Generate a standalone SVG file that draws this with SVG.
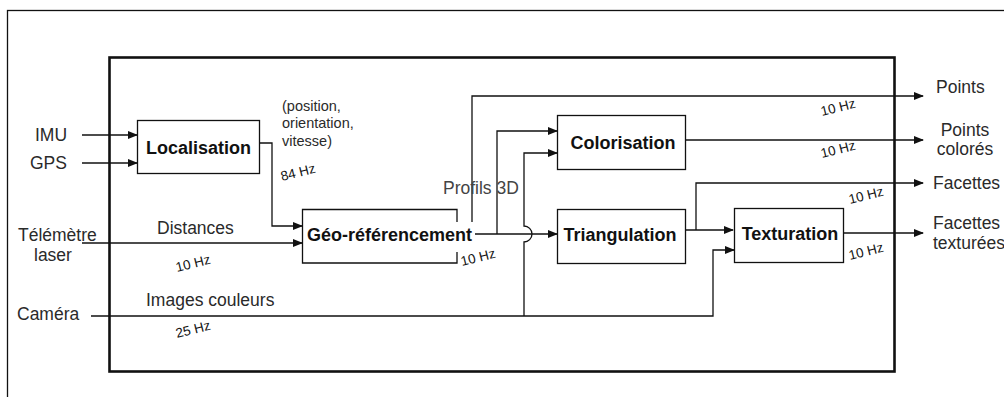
<svg xmlns="http://www.w3.org/2000/svg" width="1004" height="397" viewBox="0 0 1004 397">
<defs>
<marker id="arr" markerWidth="10" markerHeight="8" refX="9" refY="4" orient="auto" markerUnits="userSpaceOnUse">
<path d="M0,0 L10,4 L0,8 Z" fill="#111"/>
</marker>
<style>
.lbl{font-family:"Liberation Sans",Arial,sans-serif;font-size:17.5px;fill:#2a2a2a}
.sm{font-family:"Liberation Sans",Arial,sans-serif;font-size:14.5px;fill:#2a2a2a}
.bx{font-family:"Liberation Sans",Arial,sans-serif;font-size:18px;font-weight:bold;fill:#111}
.hz{font-family:"Liberation Sans",Arial,sans-serif;font-size:13.5px;fill:#111}
.box{fill:#fff;stroke:#111;stroke-width:1.3}
.c{fill:none;stroke:#111;stroke-width:1.3}
.ca{fill:none;stroke:#111;stroke-width:1.3;marker-end:url(#arr)}
</style>
</defs>
<rect width="1004" height="397" fill="#fff"/>
<rect x="7.5" y="10.5" width="1010" height="400" fill="none" stroke="#111" stroke-width="1.3"/>
<rect x="109.5" y="57.5" width="785" height="314" fill="none" stroke="#111" stroke-width="2.6"/>

<g id="connectors">
<path class="ca" d="M82 135 H137"/>
<path class="ca" d="M82 163 H137"/>
<path class="ca" d="M260 143 H272 V226 H302"/>
<path class="ca" d="M82 243 H302"/>
<path class="ca" d="M475 234 H557"/>
<path class="ca" d="M472 222 V96 H923"/>
<path class="ca" d="M497 234 V131 H557"/>
<path class="ca" d="M524 316 V242 A8 8 0 0 0 524 226 V153 H557"/>
<path class="ca" d="M91 316 H713 V250 H734"/>
<path class="ca" d="M686 140 H923"/>
<path class="ca" d="M686 230 H733"/>
<path class="ca" d="M696 230 V183 H923"/>
<path class="ca" d="M844 233 H923"/>
</g>

<g id="localisation">
<rect class="box" x="137.5" y="120.5" width="122" height="53"/>
<text class="bx" x="198.5" y="154" text-anchor="middle">Localisation</text>
</g>
<g id="georef">
<path class="c" d="M457 222 V209.5 H302.5 V263 H457 V252"/>
<text class="bx" x="307" y="241">Géo-référencement</text>
</g>
<g id="colorisation">
<rect class="box" x="557.5" y="115.5" width="128" height="54"/>
<text class="bx" x="623" y="149" text-anchor="middle">Colorisation</text>
</g>
<g id="triangulation">
<rect class="box" x="557.5" y="209.5" width="128" height="54"/>
<text class="bx" x="620" y="241" text-anchor="middle">Triangulation</text>
</g>
<g id="texturation">
<rect class="box" x="734.5" y="208.5" width="109" height="54"/>
<text class="bx" x="790" y="240" text-anchor="middle">Texturation</text>
</g>

<g id="labels">
<text class="lbl" x="35" y="141">IMU</text>
<text class="lbl" x="30" y="169">GPS</text>
<text class="lbl" x="18" y="241">Télémètre</text>
<text class="lbl" x="34" y="261">laser</text>
<text class="lbl" x="17" y="320">Caméra</text>
<text class="lbl" x="157" y="234">Distances</text>
<text class="lbl" x="146" y="306">Images couleurs</text>
<text class="sm" x="282" y="111">(position,</text>
<text class="sm" x="282" y="128">orientation,</text>
<text class="sm" x="282" y="146">vitesse)</text>
<text class="lbl" x="443" y="194" style="fill:#444">Profils 3D</text>
<text class="lbl" x="936" y="93">Points</text>
<text class="lbl" x="965" y="136" text-anchor="middle">Points</text>
<text class="lbl" x="965" y="155" text-anchor="middle">colorés</text>
<text class="lbl" x="933" y="189">Facettes</text>
<text class="lbl" x="933" y="229">Facettes</text>
<text class="lbl" x="933" y="249">texturées</text>
<text class="hz" transform="translate(282,181) rotate(-14)">84 Hz</text>
<text class="hz" transform="translate(177,272) rotate(-14)">10 Hz</text>
<text class="hz" transform="translate(177,338) rotate(-14)">25 Hz</text>
<text class="hz" transform="translate(462,266) rotate(-14)">10 Hz</text>
<text class="hz" transform="translate(822,116) rotate(-14)">10 Hz</text>
<text class="hz" transform="translate(822,158) rotate(-14)">10 Hz</text>
<text class="hz" transform="translate(850,204) rotate(-14)">10 Hz</text>
<text class="hz" transform="translate(850,260) rotate(-14)">10 Hz</text>
</g>
</svg>
